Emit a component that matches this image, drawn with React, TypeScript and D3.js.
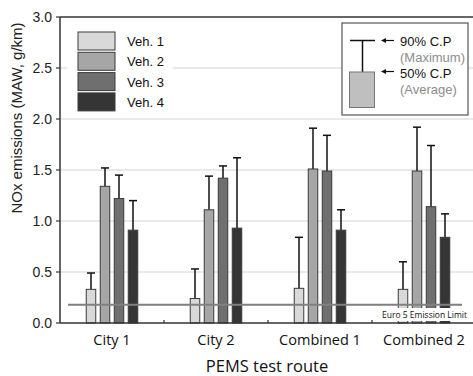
import React from 'react'
import { scaleBand, scaleLinear } from 'd3'

// route categories and vehicles
const routes = ['City 1', 'City 2', 'Combined 1', 'Combined 2']
const vehicles = ['Veh. 1', 'Veh. 2', 'Veh. 3', 'Veh. 4']
const vehColors = ['#d9d9d9', '#a6a6a6', '#6f6f6f', '#353535']

// 50% C.P (average) per vehicle, one value per route
const veh1Avg = [0.33, 0.24, 0.34, 0.33]
const veh2Avg = [1.34, 1.11, 1.51, 1.49]
const veh3Avg = [1.22, 1.42, 1.49, 1.14]
const veh4Avg = [0.91, 0.93, 0.91, 0.84]
// 90% C.P (maximum)
const veh1Max = [0.49, 0.53, 0.84, 0.60]
const veh2Max = [1.52, 1.44, 1.91, 1.92]
const veh3Max = [1.45, 1.54, 1.84, 1.74]
const veh4Max = [1.20, 1.62, 1.11, 1.07]

const yTicks = [0, 0.5, 1.0, 1.5, 2.0, 2.5, 3.0]
const euroLimit = 0.18

const avgs = [veh1Avg, veh2Avg, veh3Avg, veh4Avg]
const maxs = [veh1Max, veh2Max, veh3Max, veh4Max]

const W = 473
const H = 376
const left = 60
const right = 476
const top = 17
const bottom = 323

const arial = '"Liberation Sans", Arial, sans-serif'
const calibri = '"Open Sans", sans-serif'

const App = () => {
  const x = scaleBand().domain(routes).range([left, right]).padding(0)
  const y = scaleLinear().domain([0, 3]).range([bottom, top])

  const inner = (route: string) => {
    const c = x(route)! + x.bandwidth() / 2
    return scaleBand().domain(vehicles).range([c - 28, c + 28]).paddingInner(0.32).paddingOuter(0.16)
  }

  return (
    <svg width={W} height={H} style={{ position: 'absolute', left: 0, top: 0, background: '#fff' }}>
      {/* gridlines */}
      {yTicks.filter(t => t > 0 && t < 3).map(t => (
        <line key={t} x1={left} x2={W} y1={y(t)} y2={y(t)} stroke="#d4d4d4" strokeWidth={1.2} />
      ))}

      {/* bars + error bars */}
      {routes.map((r, ri) => {
        const xi = inner(r)
        return vehicles.map((v, vi) => {
          const bx = xi(v)!
          const bw = xi.bandwidth()
          const cx = bx + bw / 2
          return (
            <g key={r + v}>
              <line x1={cx} x2={cx} y1={y(avgs[vi][ri])} y2={y(maxs[vi][ri])} stroke="#111" strokeWidth={1.5} />
              <line x1={cx - 4} x2={cx + 4} y1={y(maxs[vi][ri])} y2={y(maxs[vi][ri])} stroke="#111" strokeWidth={1.5} />
              <rect x={bx} y={y(avgs[vi][ri])} width={bw} height={bottom - y(avgs[vi][ri])}
                fill={vehColors[vi]} stroke="#3a3a3a" strokeWidth={1} />
            </g>
          )
        })
      })}

      {/* Euro 5 limit */}
      <line x1={68} x2={462} y1={y(euroLimit)} y2={y(euroLimit)} stroke="#808080" strokeWidth={2} />
      <rect x={371} y={308} width={99} height={13} fill="#fff" />
      <text x={467} y={318} textAnchor="end" fontFamily={calibri} fontSize={8.5} fill="#111">Euro 5 Emission Limit</text>

      {/* axes frame */}
      <line x1={left} x2={W} y1={top} y2={top} stroke="#333" strokeWidth={1.5} />
      <line x1={left} x2={W} y1={bottom} y2={bottom} stroke="#333" strokeWidth={1.5} />
      <line x1={left} x2={left} y1={top} y2={bottom} stroke="#333" strokeWidth={1.5} />
      {yTicks.map(t => (
        <g key={t}>
          <line x1={left - 4} x2={left} y1={y(t)} y2={y(t)} stroke="#333" strokeWidth={1.2} />
          <text x={52} y={y(t) + 5} textAnchor="end" fontFamily={arial} fontSize={14} fill="#222">{t.toFixed(1)}</text>
        </g>
      ))}
      {routes.slice(1).map(r => (
        <line key={r} x1={x(r)} x2={x(r)} y1={bottom - 3} y2={bottom} stroke="#333" strokeWidth={1.2} />
      ))}
      {routes.map(r => (
        <text key={r} x={x(r)! + x.bandwidth() / 2} y={345} textAnchor="middle" fontFamily={calibri} fontSize={14.5} fill="#111">{r}</text>
      ))}
      <text x={267} y={372} textAnchor="middle" fontFamily={calibri} fontSize={16.5} fill="#111">PEMS test route</text>
      <text transform="translate(22,118) rotate(-90)" textAnchor="middle" fontFamily={arial} fontSize={15} fill="#222">NOx emissions (MAW, g/km)</text>

      {/* vehicle legend */}
      <rect x={67} y={27} width={106} height={88} fill="#fff" />
      {vehicles.map((v, i) => (
        <g key={v}>
          <rect x={78} y={32 + i * 20.3} width={37} height={18} fill={vehColors[i]} stroke="#3a3a3a" strokeWidth={1} />
          <text x={127} y={46 + i * 20.3} fontFamily={arial} fontSize={13} fill="#111">{v}</text>
        </g>
      ))}

      {/* C.P legend */}
      <rect x={342} y={23} width={126} height={92} fill="#fff" stroke="#555" strokeWidth={1.2} />
      <line x1={350} x2={375} y1={40.5} y2={40.5} stroke="#111" strokeWidth={1.5} />
      <line x1={362.5} x2={362.5} y1={40.5} y2={72} stroke="#111" strokeWidth={1.5} />
      <rect x={349.5} y={72} width={25} height={35.5} fill="#bfbfbf" stroke="#777" strokeWidth={1} />
      <line x1={394} x2={384} y1={40.5} y2={40.5} stroke="#111" strokeWidth={1.2} />
      <path d="M381,40.5 L386,38 L386,43 Z" fill="#111" />
      <line x1={394} x2={384} y1={71.5} y2={71.5} stroke="#111" strokeWidth={1.2} />
      <path d="M381,71.5 L386,69 L386,74 Z" fill="#111" />
      <text x={400} y={46} fontFamily={arial} fontSize={13} fill="#111">90% C.P</text>
      <text x={400} y={62} fontFamily={arial} fontSize={13} fill="#8c8c8c">(Maximum)</text>
      <text x={400} y={78} fontFamily={arial} fontSize={13} fill="#111">50% C.P</text>
      <text x={400} y={94} fontFamily={arial} fontSize={13} fill="#8c8c8c">(Average)</text>
    </svg>
  )
}

export default App
